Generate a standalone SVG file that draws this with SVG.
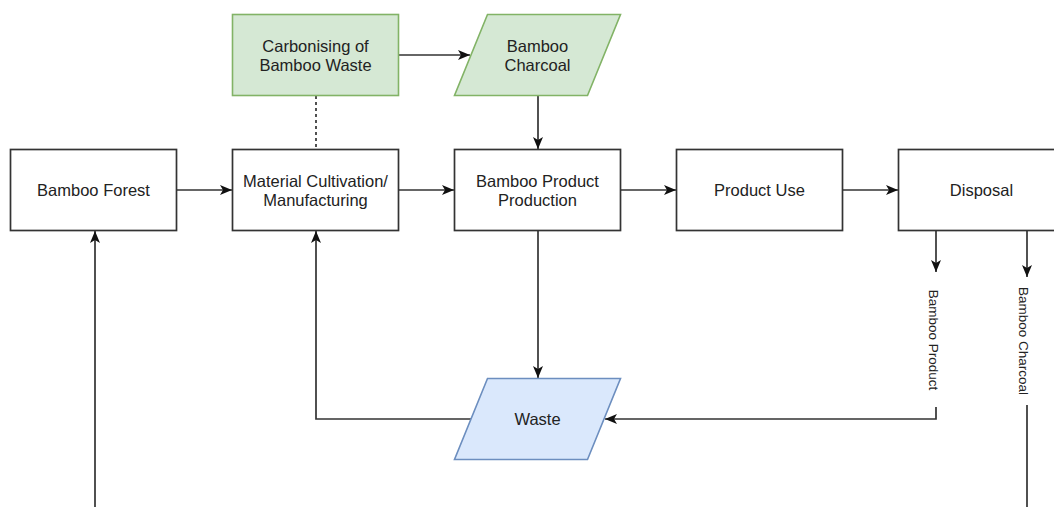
<svg xmlns="http://www.w3.org/2000/svg" width="1054" height="507" viewBox="0 0 1054 507">
<defs>
<style>
.box{fill:#ffffff;stroke:#333333;stroke-width:1.7}
.green{fill:#d5e8d4;stroke:#82b366;stroke-width:1.6}
.blue{fill:#dae8fc;stroke:#6c8ebf;stroke-width:1.6}
.t{font-family:"Liberation Sans",Arial,sans-serif;font-size:16.5px;fill:#222222;text-anchor:middle;dominant-baseline:central}
.lbl{font-family:"Liberation Sans",Arial,sans-serif;font-size:13.5px;fill:#222222;text-anchor:middle;dominant-baseline:central}
.e{fill:none;stroke:#333333;stroke-width:1.7}
.a{marker-end:url(#arr)}
.d{stroke-dasharray:3 3}
</style>
<marker id="arr" viewBox="0 0 12 10" refX="12" refY="5" markerWidth="12" markerHeight="10" markerUnits="userSpaceOnUse" orient="auto">
<path d="M0,0 L12,5 L0,10 L3,5 Z" fill="#111111"/>
</marker>
</defs>
<rect width="1054" height="507" fill="#ffffff"/>
<g id="connectors">
<path class="e a" d="M177,190 H232"/>
<path class="e a" d="M399,190 H454"/>
<path class="e a" d="M621,190 H676"/>
<path class="e a" d="M843,190 H898"/>
<path class="e a" d="M399,55 H470"/>
<path class="e a" d="M538,96 V149"/>
<path class="e d" d="M316,96 V149"/>
<path class="e a" d="M538,231 V378"/>
<path class="e a" d="M471,419 H316 V231"/>
<path class="e a" d="M936,231 V272"/>
<path class="e a" d="M936,407 V419 H605"/>
<path class="e a" d="M1027,231 V277"/>
<path class="e a" d="M1027,405 V530 H95 V231"/>
</g>
<g id="bamboo-forest">
<rect class="box" x="10.5" y="149.5" width="166" height="81"/>
<text class="t" x="93.5" y="190">Bamboo Forest</text>
</g>
<g id="material">
<rect class="box" x="232.5" y="149.5" width="166" height="81"/>
<text class="t" x="315.5" y="180.5">Material Cultivation/</text>
<text class="t" x="315.5" y="199.5">Manufacturing</text>
</g>
<g id="production">
<rect class="box" x="454.5" y="149.5" width="166" height="81"/>
<text class="t" x="537.5" y="180.5">Bamboo Product</text>
<text class="t" x="537.5" y="199.5">Production</text>
</g>
<g id="product-use">
<rect class="box" x="676.5" y="149.5" width="166" height="81"/>
<text class="t" x="759.5" y="190">Product Use</text>
</g>
<g id="disposal">
<rect class="box" x="898.5" y="149.5" width="166" height="81"/>
<text class="t" x="981.5" y="190">Disposal</text>
</g>
<g id="carbonising">
<rect class="green" x="232.5" y="14.5" width="166" height="81"/>
<text class="t" x="315.5" y="46">Carbonising of</text>
<text class="t" x="315.5" y="65">Bamboo Waste</text>
</g>
<g id="charcoal">
<polygon class="green" points="487.5,14.5 620.5,14.5 587.5,95.5 454.5,95.5"/>
<text class="t" x="537.5" y="46">Bamboo</text>
<text class="t" x="537.5" y="65">Charcoal</text>
</g>
<g id="waste">
<polygon class="blue" points="487.5,378.5 620.5,378.5 587.5,459.5 454.5,459.5"/>
<text class="t" x="537.5" y="419">Waste</text>
</g>
<g id="label-bamboo-product">
<text class="lbl" transform="translate(933,340) rotate(90)">Bamboo Product</text>
</g>
<g id="label-bamboo-charcoal">
<text class="lbl" transform="translate(1023,341) rotate(90)">Bamboo Charcoal</text>
</g>
</svg>
